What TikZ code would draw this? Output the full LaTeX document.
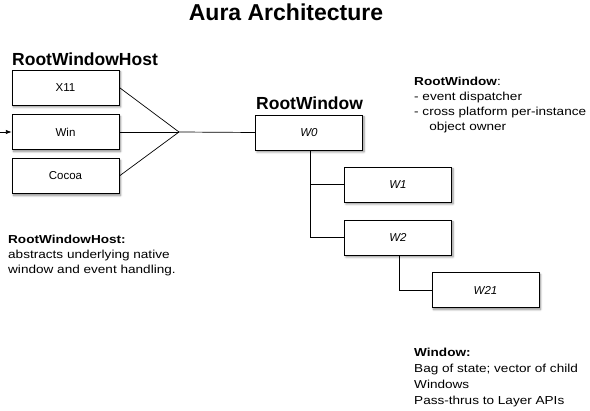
\documentclass[tikz,border=0pt]{standalone}
\usepackage{fontspec}
\setmainfont{Liberation Sans}
\newfontfamily\notefont[FakeStretch=1.17]{Liberation Sans}
\usetikzlibrary{arrows.meta,positioning,shadows.blur}

\begin{document}
\begin{tikzpicture}[x=1pt,y=-1pt,
  box/.style={draw,fill=white,line width=0.7pt,minimum width=107pt,minimum height=35pt,align=center,
    font=\fontsize{11.5}{13}\selectfont,blur shadow={shadow xshift=1.5pt,shadow yshift=-2pt,shadow blur steps=6,shadow opacity=45}},
  wbox/.style={box,font=\fontsize{11.5}{13}\selectfont\itshape},
  header/.style={font=\fontsize{17.5}{20}\selectfont\bfseries,anchor=base west,inner sep=0pt},
  note/.style={font=\notefont\fontsize{11.6}{15}\selectfont,align=left,anchor=north west,inner sep=0pt},
  link/.style={line width=0.7pt,black},
  flow/.style={-{Latex[length=2mm]},line width=0.7pt,black}]

  \useasboundingbox (0,0) rectangle (590,411);

  \node[font=\fontsize{23}{26}\selectfont\bfseries] (title) at (286,12) {Aura Architecture};

  % hosts
  \node[header] (hosthead) at (12,66) {RootWindowHost};
  \node[box] (x11) at (65.5,87.5) {X11};
  \node[box] (win) at (65.5,132) {Win};
  \node[box] (cocoa) at (65.5,176) {Cocoa};

  % window tree
  \node[header] (roothead) at (256,110) {RootWindow};
  \node[wbox] (w0) at (309,132.5) {W0};
  \node[wbox] (w1) at (398,184.5) {W1};
  \node[wbox] (w2) at (398,237.5) {W2};
  \node[wbox] (w21) at (485.5,290) {W21};

  \coordinate (input) at (0,132);
  \coordinate (hub) at (179,132);

  \draw[flow] (input) -- (win);
  \draw[link] (x11.east) -- (hub);
  \draw[link] (win.east) -- (hub);
  \draw[link] (cocoa.east) -- (hub);
  \draw[link] (hub) -- (w0.west);
  \draw[link] ([xshift=55pt]w0.south west) |- (w1.west);
  \draw[link] ([xshift=55pt]w0.south west) |- (w2.west);
  \draw[link] ([xshift=55pt]w2.south west) |- (w21.west);

  % notes
  \node[note] (rootnote) at (414,76.5) {\textbf{RootWindow}:\\- event dispatcher\\- cross platform per-instance\\\hspace*{1.3em}object owner};
  \node[note] (hostnote) at (8,235) {\textbf{RootWindowHost:}\\abstracts underlying native\\window and event handling.};
  \node[note,font=\notefont\fontsize{11.6}{16}\selectfont] (winnote) at (414,347.5) {\textbf{Window:}\\Bag of state; vector of child\\Windows\\Pass-thrus to Layer APIs};
\end{tikzpicture}
\end{document}
